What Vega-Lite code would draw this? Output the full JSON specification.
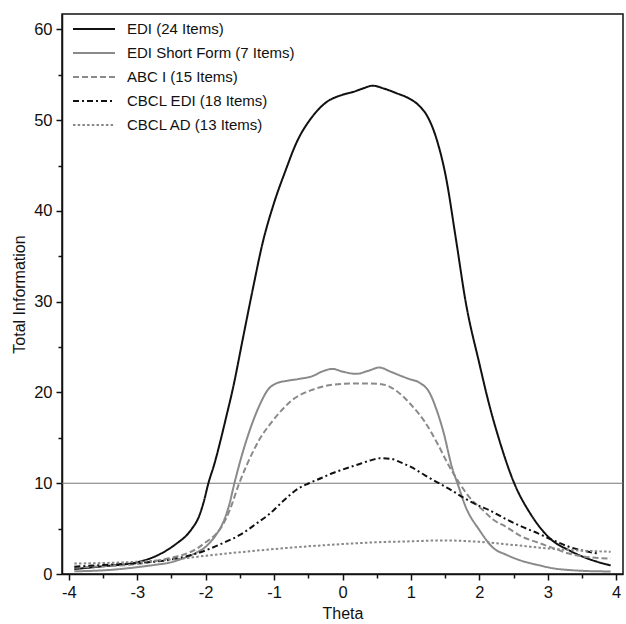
{
  "$schema": "https://vega.github.io/schema/vega-lite/v6.json",
  "width": 561,
  "height": 560,
  "autosize": {"type": "none"},
  "padding": {"left": 62, "top": 14, "right": 3, "bottom": 50},
  "background": "white",
  "config": {
    "view": {"stroke": "#111", "strokeWidth": 1.5},
    "font": "Liberation Sans",
    "axis": {"labelFont": "Liberation Sans", "titleFont": "Liberation Sans", "labelColor": "#111", "titleColor": "#111", "labelFontSize": 16.5, "titleFontSize": 16, "titleFontWeight": "normal", "domainColor": "#111", "domainWidth": 1.5, "tickColor": "#111", "tickWidth": 1.5, "grid": false},
    "legend": {"labelFont": "Liberation Sans", "labelFontSize": 15, "labelColor": "#111", "labelLimit": 400}
  },
  "datasets": {
    "curves": [
      {"s": "EDI (24 Items)", "t": -3.92, "i": 0.55},
      {"s": "EDI (24 Items)", "t": -3.5, "i": 0.85},
      {"s": "EDI (24 Items)", "t": -3.0, "i": 1.3},
      {"s": "EDI (24 Items)", "t": -2.75, "i": 1.9},
      {"s": "EDI (24 Items)", "t": -2.55, "i": 2.7},
      {"s": "EDI (24 Items)", "t": -2.4, "i": 3.5},
      {"s": "EDI (24 Items)", "t": -2.3, "i": 4.1},
      {"s": "EDI (24 Items)", "t": -2.2, "i": 5.0},
      {"s": "EDI (24 Items)", "t": -2.1, "i": 6.3},
      {"s": "EDI (24 Items)", "t": -2.03, "i": 7.9},
      {"s": "EDI (24 Items)", "t": -1.96, "i": 10},
      {"s": "EDI (24 Items)", "t": -1.87, "i": 12.2},
      {"s": "EDI (24 Items)", "t": -1.78, "i": 14.8},
      {"s": "EDI (24 Items)", "t": -1.7, "i": 17.3},
      {"s": "EDI (24 Items)", "t": -1.6, "i": 20.5},
      {"s": "EDI (24 Items)", "t": -1.46, "i": 25.8},
      {"s": "EDI (24 Items)", "t": -1.3, "i": 31.8},
      {"s": "EDI (24 Items)", "t": -1.17, "i": 36.4},
      {"s": "EDI (24 Items)", "t": -1.0, "i": 40.9},
      {"s": "EDI (24 Items)", "t": -0.83, "i": 44.5},
      {"s": "EDI (24 Items)", "t": -0.68, "i": 47.4},
      {"s": "EDI (24 Items)", "t": -0.44, "i": 50.4},
      {"s": "EDI (24 Items)", "t": -0.25, "i": 51.9},
      {"s": "EDI (24 Items)", "t": 0.0, "i": 52.8},
      {"s": "EDI (24 Items)", "t": 0.15, "i": 53.1},
      {"s": "EDI (24 Items)", "t": 0.3, "i": 53.5},
      {"s": "EDI (24 Items)", "t": 0.44, "i": 53.8},
      {"s": "EDI (24 Items)", "t": 0.6, "i": 53.5},
      {"s": "EDI (24 Items)", "t": 0.78, "i": 53.0},
      {"s": "EDI (24 Items)", "t": 0.97, "i": 52.4},
      {"s": "EDI (24 Items)", "t": 1.12, "i": 51.6},
      {"s": "EDI (24 Items)", "t": 1.25, "i": 50.3},
      {"s": "EDI (24 Items)", "t": 1.38, "i": 47.8},
      {"s": "EDI (24 Items)", "t": 1.51, "i": 43.8},
      {"s": "EDI (24 Items)", "t": 1.66, "i": 36.8},
      {"s": "EDI (24 Items)", "t": 1.8, "i": 30},
      {"s": "EDI (24 Items)", "t": 2.0, "i": 23.2},
      {"s": "EDI (24 Items)", "t": 2.15, "i": 18.5},
      {"s": "EDI (24 Items)", "t": 2.29, "i": 14.8},
      {"s": "EDI (24 Items)", "t": 2.51, "i": 10},
      {"s": "EDI (24 Items)", "t": 2.75, "i": 6.6},
      {"s": "EDI (24 Items)", "t": 3.05, "i": 3.8},
      {"s": "EDI (24 Items)", "t": 3.3, "i": 2.65},
      {"s": "EDI (24 Items)", "t": 3.5, "i": 1.95},
      {"s": "EDI (24 Items)", "t": 3.7, "i": 1.4},
      {"s": "EDI (24 Items)", "t": 3.92, "i": 0.95},

      {"s": "EDI Short Form (7 Items)", "t": -3.92, "i": 0.3},
      {"s": "EDI Short Form (7 Items)", "t": -3.5, "i": 0.4},
      {"s": "EDI Short Form (7 Items)", "t": -3.0, "i": 0.75},
      {"s": "EDI Short Form (7 Items)", "t": -2.75, "i": 1.0},
      {"s": "EDI Short Form (7 Items)", "t": -2.5, "i": 1.3},
      {"s": "EDI Short Form (7 Items)", "t": -2.34, "i": 1.7},
      {"s": "EDI Short Form (7 Items)", "t": -2.15, "i": 2.3},
      {"s": "EDI Short Form (7 Items)", "t": -2.0, "i": 3.0},
      {"s": "EDI Short Form (7 Items)", "t": -1.85, "i": 4.3},
      {"s": "EDI Short Form (7 Items)", "t": -1.75, "i": 5.6},
      {"s": "EDI Short Form (7 Items)", "t": -1.66, "i": 7.5},
      {"s": "EDI Short Form (7 Items)", "t": -1.58, "i": 10},
      {"s": "EDI Short Form (7 Items)", "t": -1.5, "i": 12.3},
      {"s": "EDI Short Form (7 Items)", "t": -1.41, "i": 14.6},
      {"s": "EDI Short Form (7 Items)", "t": -1.3, "i": 17.0},
      {"s": "EDI Short Form (7 Items)", "t": -1.2, "i": 18.8},
      {"s": "EDI Short Form (7 Items)", "t": -1.1, "i": 20.2},
      {"s": "EDI Short Form (7 Items)", "t": -0.97, "i": 21.0},
      {"s": "EDI Short Form (7 Items)", "t": -0.8, "i": 21.3},
      {"s": "EDI Short Form (7 Items)", "t": -0.63, "i": 21.5},
      {"s": "EDI Short Form (7 Items)", "t": -0.44, "i": 21.8},
      {"s": "EDI Short Form (7 Items)", "t": -0.3, "i": 22.3},
      {"s": "EDI Short Form (7 Items)", "t": -0.15, "i": 22.6},
      {"s": "EDI Short Form (7 Items)", "t": 0.0, "i": 22.3},
      {"s": "EDI Short Form (7 Items)", "t": 0.2, "i": 22.05},
      {"s": "EDI Short Form (7 Items)", "t": 0.38, "i": 22.4},
      {"s": "EDI Short Form (7 Items)", "t": 0.54, "i": 22.75},
      {"s": "EDI Short Form (7 Items)", "t": 0.7, "i": 22.3},
      {"s": "EDI Short Form (7 Items)", "t": 0.83, "i": 21.9},
      {"s": "EDI Short Form (7 Items)", "t": 0.97, "i": 21.5},
      {"s": "EDI Short Form (7 Items)", "t": 1.12, "i": 21.1},
      {"s": "EDI Short Form (7 Items)", "t": 1.27, "i": 20.0},
      {"s": "EDI Short Form (7 Items)", "t": 1.37, "i": 18.2},
      {"s": "EDI Short Form (7 Items)", "t": 1.47, "i": 15.8},
      {"s": "EDI Short Form (7 Items)", "t": 1.61, "i": 11.5},
      {"s": "EDI Short Form (7 Items)", "t": 1.68, "i": 10},
      {"s": "EDI Short Form (7 Items)", "t": 1.8, "i": 7.4},
      {"s": "EDI Short Form (7 Items)", "t": 2.0, "i": 4.85},
      {"s": "EDI Short Form (7 Items)", "t": 2.2, "i": 2.9},
      {"s": "EDI Short Form (7 Items)", "t": 2.4, "i": 2.1},
      {"s": "EDI Short Form (7 Items)", "t": 2.6, "i": 1.5},
      {"s": "EDI Short Form (7 Items)", "t": 2.88, "i": 0.95},
      {"s": "EDI Short Form (7 Items)", "t": 3.1, "i": 0.6},
      {"s": "EDI Short Form (7 Items)", "t": 3.31, "i": 0.44},
      {"s": "EDI Short Form (7 Items)", "t": 3.6, "i": 0.32},
      {"s": "EDI Short Form (7 Items)", "t": 3.92, "i": 0.28},

      {"s": "ABC I (15 Items)", "t": -3.92, "i": 0.7},
      {"s": "ABC I (15 Items)", "t": -3.5, "i": 0.85},
      {"s": "ABC I (15 Items)", "t": -3.0, "i": 1.1},
      {"s": "ABC I (15 Items)", "t": -2.75, "i": 1.4},
      {"s": "ABC I (15 Items)", "t": -2.5, "i": 1.8},
      {"s": "ABC I (15 Items)", "t": -2.34, "i": 2.1},
      {"s": "ABC I (15 Items)", "t": -2.15, "i": 2.7},
      {"s": "ABC I (15 Items)", "t": -2.0, "i": 3.5},
      {"s": "ABC I (15 Items)", "t": -1.85, "i": 4.4},
      {"s": "ABC I (15 Items)", "t": -1.75, "i": 5.4},
      {"s": "ABC I (15 Items)", "t": -1.65, "i": 7.0},
      {"s": "ABC I (15 Items)", "t": -1.51, "i": 10},
      {"s": "ABC I (15 Items)", "t": -1.4, "i": 12.0},
      {"s": "ABC I (15 Items)", "t": -1.3, "i": 13.6},
      {"s": "ABC I (15 Items)", "t": -1.2, "i": 15.0},
      {"s": "ABC I (15 Items)", "t": -1.05, "i": 16.6},
      {"s": "ABC I (15 Items)", "t": -0.93, "i": 17.7},
      {"s": "ABC I (15 Items)", "t": -0.73, "i": 19.2},
      {"s": "ABC I (15 Items)", "t": -0.44, "i": 20.3},
      {"s": "ABC I (15 Items)", "t": -0.2, "i": 20.8},
      {"s": "ABC I (15 Items)", "t": 0.0, "i": 20.95},
      {"s": "ABC I (15 Items)", "t": 0.25, "i": 21.0},
      {"s": "ABC I (15 Items)", "t": 0.54, "i": 20.95},
      {"s": "ABC I (15 Items)", "t": 0.7, "i": 20.6},
      {"s": "ABC I (15 Items)", "t": 0.85, "i": 19.8},
      {"s": "ABC I (15 Items)", "t": 1.02, "i": 18.5},
      {"s": "ABC I (15 Items)", "t": 1.2, "i": 16.8},
      {"s": "ABC I (15 Items)", "t": 1.4, "i": 14.2},
      {"s": "ABC I (15 Items)", "t": 1.55, "i": 12.0},
      {"s": "ABC I (15 Items)", "t": 1.71, "i": 10},
      {"s": "ABC I (15 Items)", "t": 1.85, "i": 8.5},
      {"s": "ABC I (15 Items)", "t": 2.05, "i": 7.05},
      {"s": "ABC I (15 Items)", "t": 2.2, "i": 6.0},
      {"s": "ABC I (15 Items)", "t": 2.39, "i": 5.2},
      {"s": "ABC I (15 Items)", "t": 2.6, "i": 4.2},
      {"s": "ABC I (15 Items)", "t": 2.88, "i": 3.4},
      {"s": "ABC I (15 Items)", "t": 3.1, "i": 2.8},
      {"s": "ABC I (15 Items)", "t": 3.31, "i": 2.25},
      {"s": "ABC I (15 Items)", "t": 3.5, "i": 1.95},
      {"s": "ABC I (15 Items)", "t": 3.75, "i": 1.75},
      {"s": "ABC I (15 Items)", "t": 3.92, "i": 1.7},

      {"s": "CBCL EDI (18 Items)", "t": -3.92, "i": 0.8},
      {"s": "CBCL EDI (18 Items)", "t": -3.5, "i": 1.0},
      {"s": "CBCL EDI (18 Items)", "t": -3.0, "i": 1.2},
      {"s": "CBCL EDI (18 Items)", "t": -2.5, "i": 1.6},
      {"s": "CBCL EDI (18 Items)", "t": -2.0, "i": 2.6},
      {"s": "CBCL EDI (18 Items)", "t": -1.75, "i": 3.4},
      {"s": "CBCL EDI (18 Items)", "t": -1.5, "i": 4.3},
      {"s": "CBCL EDI (18 Items)", "t": -1.25, "i": 5.6},
      {"s": "CBCL EDI (18 Items)", "t": -1.07, "i": 6.6},
      {"s": "CBCL EDI (18 Items)", "t": -0.83, "i": 8.3},
      {"s": "CBCL EDI (18 Items)", "t": -0.65, "i": 9.4},
      {"s": "CBCL EDI (18 Items)", "t": -0.49, "i": 10.0},
      {"s": "CBCL EDI (18 Items)", "t": -0.3, "i": 10.6},
      {"s": "CBCL EDI (18 Items)", "t": -0.15, "i": 11.1},
      {"s": "CBCL EDI (18 Items)", "t": 0.0, "i": 11.5},
      {"s": "CBCL EDI (18 Items)", "t": 0.24, "i": 12.1},
      {"s": "CBCL EDI (18 Items)", "t": 0.4, "i": 12.5},
      {"s": "CBCL EDI (18 Items)", "t": 0.55, "i": 12.75},
      {"s": "CBCL EDI (18 Items)", "t": 0.7, "i": 12.7},
      {"s": "CBCL EDI (18 Items)", "t": 0.85, "i": 12.3},
      {"s": "CBCL EDI (18 Items)", "t": 1.0, "i": 11.8},
      {"s": "CBCL EDI (18 Items)", "t": 1.2, "i": 10.9},
      {"s": "CBCL EDI (18 Items)", "t": 1.41, "i": 10.0},
      {"s": "CBCL EDI (18 Items)", "t": 1.6, "i": 9.2},
      {"s": "CBCL EDI (18 Items)", "t": 1.78, "i": 8.35},
      {"s": "CBCL EDI (18 Items)", "t": 2.0, "i": 7.5},
      {"s": "CBCL EDI (18 Items)", "t": 2.14, "i": 7.05},
      {"s": "CBCL EDI (18 Items)", "t": 2.4, "i": 6.0},
      {"s": "CBCL EDI (18 Items)", "t": 2.63, "i": 5.2},
      {"s": "CBCL EDI (18 Items)", "t": 2.85, "i": 4.5},
      {"s": "CBCL EDI (18 Items)", "t": 3.07, "i": 3.75},
      {"s": "CBCL EDI (18 Items)", "t": 3.31, "i": 3.0},
      {"s": "CBCL EDI (18 Items)", "t": 3.5, "i": 2.6},
      {"s": "CBCL EDI (18 Items)", "t": 3.75, "i": 2.25},

      {"s": "CBCL AD (13 Items)", "t": -3.92, "i": 1.15},
      {"s": "CBCL AD (13 Items)", "t": -3.0, "i": 1.35},
      {"s": "CBCL AD (13 Items)", "t": -2.5, "i": 1.6},
      {"s": "CBCL AD (13 Items)", "t": -2.0, "i": 2.0},
      {"s": "CBCL AD (13 Items)", "t": -1.5, "i": 2.4},
      {"s": "CBCL AD (13 Items)", "t": -1.0, "i": 2.75},
      {"s": "CBCL AD (13 Items)", "t": -0.5, "i": 3.05},
      {"s": "CBCL AD (13 Items)", "t": 0.0, "i": 3.3},
      {"s": "CBCL AD (13 Items)", "t": 0.5, "i": 3.5},
      {"s": "CBCL AD (13 Items)", "t": 1.0, "i": 3.6},
      {"s": "CBCL AD (13 Items)", "t": 1.41, "i": 3.7},
      {"s": "CBCL AD (13 Items)", "t": 2.0, "i": 3.55},
      {"s": "CBCL AD (13 Items)", "t": 2.5, "i": 3.2},
      {"s": "CBCL AD (13 Items)", "t": 2.88, "i": 2.9},
      {"s": "CBCL AD (13 Items)", "t": 3.31, "i": 2.65},
      {"s": "CBCL AD (13 Items)", "t": 3.92, "i": 2.45}
    ],
    "ref": [{"y": 10, "x0": -4.1, "x1": 4.1}]
  },
  "layer": [
    {
      "data": {"name": "ref"},
      "mark": {"type": "rule", "color": "#777", "strokeWidth": 1},
      "encoding": {
        "x": {"field": "x0", "type": "quantitative", "scale": {"domain": [-4.1, 4.1], "nice": false, "zero": false},
          "axis": {"orient": "bottom", "values": [-3.5, -2.5, -1.5, -0.5, 0.5, 1.5, 2.5, 3.5], "labels": false, "domain": false, "tickSize": 4, "title": null}},
        "x2": {"field": "x1"},
        "y": {"field": "y", "type": "quantitative", "scale": {"domain": [0, 61.7], "nice": false, "zero": true},
          "axis": {"orient": "left", "values": [5, 15, 25, 35, 45, 55], "labels": false, "domain": false, "tickSize": 4, "title": null}}
      }
    },
    {
      "data": {"name": "curves"},
      "mark": {"type": "line", "interpolate": "monotone"},
      "encoding": {
        "x": {"field": "t", "type": "quantitative", "title": "Theta",
          "axis": {"orient": "bottom", "values": [-4, -3, -2, -1, 0, 1, 2, 3, 4], "labelExpr": "datum.value + ''", "tickSize": 6, "labelPadding": 4, "titlePadding": 5}},
        "y": {"field": "i", "type": "quantitative", "title": "Total Information",
          "axis": {"orient": "left", "values": [0, 10, 20, 30, 40, 50, 60], "tickSize": 6, "labelPadding": 4, "titlePadding": 6}},
        "color": {"field": "s", "type": "nominal", "title": null,
          "scale": {"domain": ["EDI (24 Items)", "EDI Short Form (7 Items)", "ABC I (15 Items)", "CBCL EDI (18 Items)", "CBCL AD (13 Items)"],
                    "range": ["#111111", "#8a8a8a", "#8a8a8a", "#111111", "#888888"]},
          "legend": {"orient": "none", "legendX": 10, "legendY": 3, "symbolType": "stroke", "symbolSize": 1764, "rowPadding": 0, "clipHeight": 23.8, "labelOffset": 11, "symbolStrokeWidth": 2}},
        "strokeDash": {"field": "s", "type": "nominal", "title": null,
          "scale": {"domain": ["EDI (24 Items)", "EDI Short Form (7 Items)", "ABC I (15 Items)", "CBCL EDI (18 Items)", "CBCL AD (13 Items)"],
                    "range": [[1, 0], [1, 0], [6, 3], [6, 3, 2, 3], [2.5, 2.2]]}},
        "strokeWidth": {"field": "s", "type": "nominal", "title": null, "legend": null,
          "scale": {"domain": ["EDI (24 Items)", "EDI Short Form (7 Items)", "ABC I (15 Items)", "CBCL EDI (18 Items)", "CBCL AD (13 Items)"],
                    "range": [2, 2, 1.8, 2.2, 3]}}
      }
    }
  ],
  "resolve": {"axis": {"x": "independent", "y": "independent"}}
}
